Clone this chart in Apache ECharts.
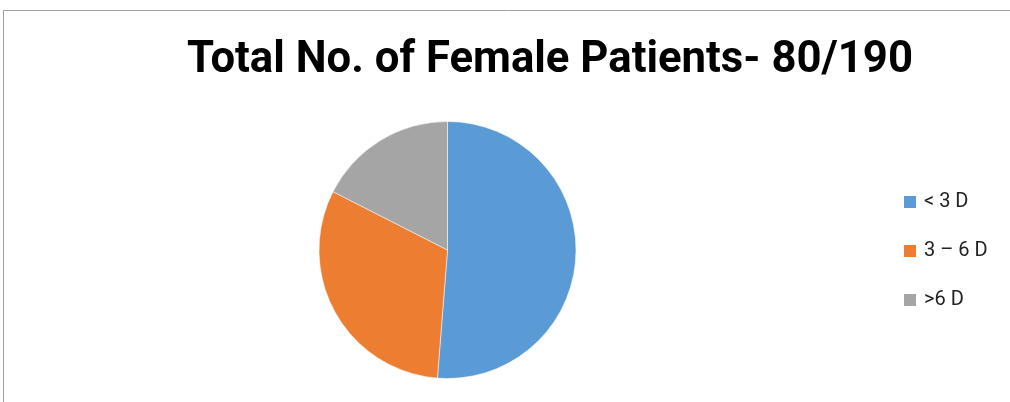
<!DOCTYPE html>
<html>
<head>
<meta charset="utf-8">
<script src="https://cdn.jsdelivr.net/npm/echarts@6/dist/echarts.min.js"></script>
<style>
  html, body { margin: 0; padding: 0; background: #fff; }
  #chart { width: 1010px; height: 402px; }
</style>
</head>
<body>
<div id="chart"></div>
<script>
const titleText = "Total No. of Female Patients- 80/190";
const categories = ["< 3 D", "3 \u2013 6 D", ">6 D"];
const patients = [41, 25, 14];
const colors = ["#5b9bd5", "#ed7d31", "#a5a5a5"];

const chart = echarts.init(document.getElementById("chart"));

// the original title uses a condensed bold face; squeeze Roboto to the same width
const titleFont = "bold 44px Roboto";
const ctx = document.createElement("canvas").getContext("2d");
ctx.font = titleFont;
const titleScale = 726 / ctx.measureText(titleText).width;

chart.setOption({
  animation: false,
  legend: {
    orient: "vertical",
    left: 902,
    top: 192,
    padding: 0,
    itemWidth: 14,
    itemHeight: 14,
    itemGap: 29,
    icon: "rect",
    textStyle: {
      fontFamily: "Roboto",
      fontSize: 20,
      color: "#222",
      padding: [0, 0, 0, 2]
    },
    data: categories
  },
  graphic: [
    {
      type: "rect",
      silent: true,
      shape: { x: 3.5, y: 10.5, width: 1010, height: 400 },
      style: { fill: null, stroke: "#a0a0a0", lineWidth: 1 }
    },
    {
      type: "text",
      silent: true,
      x: 550,
      y: 61,
      scaleX: titleScale,
      style: {
        text: titleText,
        font: titleFont,
        fill: "#000",
        textAlign: "center",
        textVerticalAlign: "middle"
      }
    }
  ],
  series: [
    {
      type: "pie",
      center: [447.5, 250],
      radius: 128.5,
      startAngle: 90,
      clockwise: true,
      label: { show: false },
      labelLine: { show: false },
      itemStyle: { borderColor: "#fff", borderWidth: 0.5 },
      data: categories.map((name, i) => ({
        name: name,
        value: patients[i],
        itemStyle: { color: colors[i] }
      }))
    }
  ]
});
</script>
</body>
</html>
